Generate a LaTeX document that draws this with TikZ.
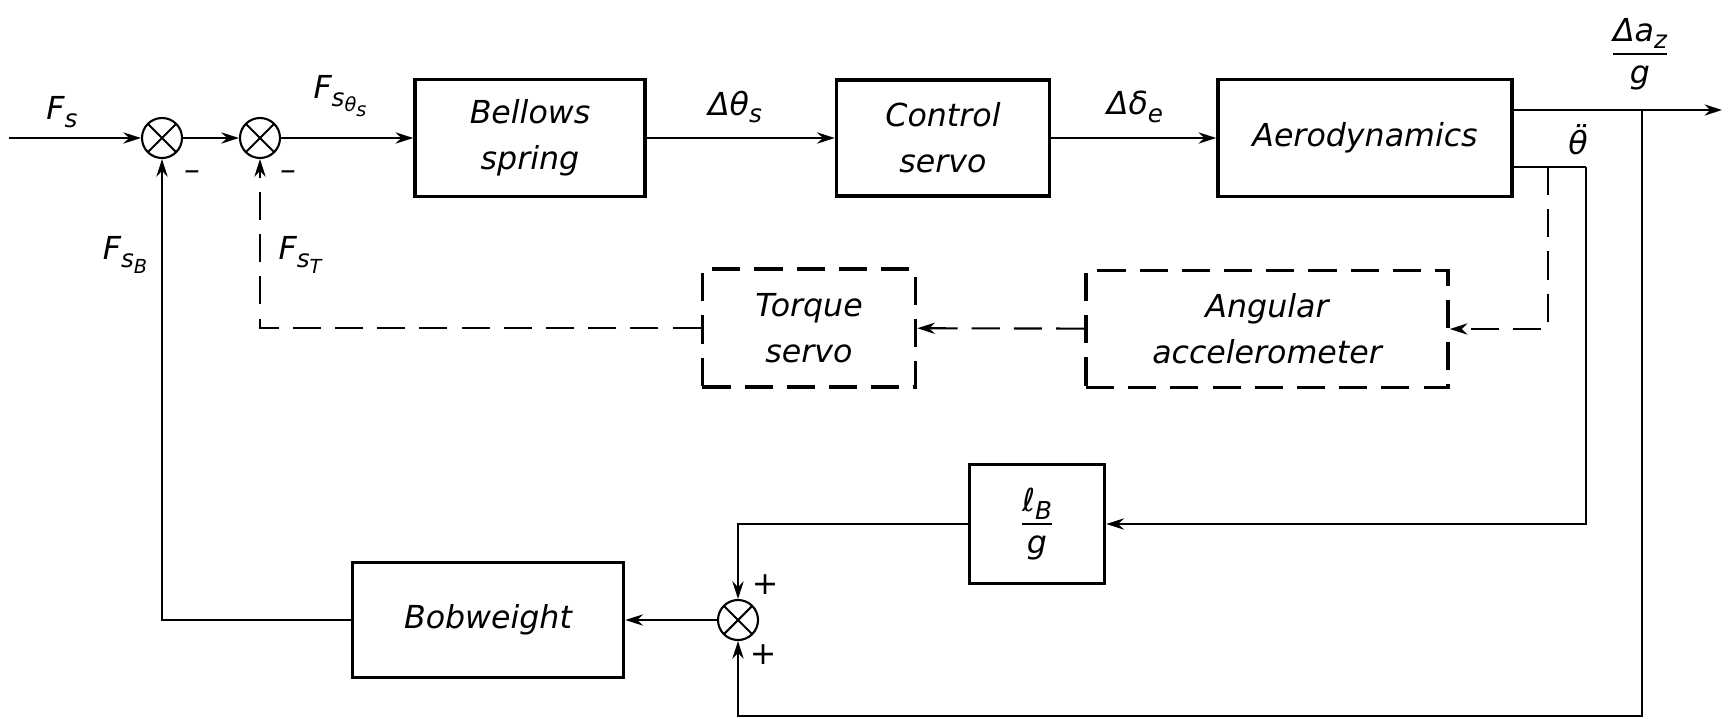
\documentclass[tikz,border=0pt]{standalone}
\usepackage{fontspec}
\setmainfont{DejaVu Sans}
\usetikzlibrary{arrows.meta}
\newcommand{\vfrac}[2]{$\displaystyle\frac{\mbox{#1}}{\mbox{#2}}$}
\newcommand{\lowidx}[1]{\raisebox{-0.45ex}{\fontsize{7}{8}\selectfont #1}}
\newcommand{\lowlowidx}[1]{\raisebox{-0.4ex}{\fontsize{5.5}{6}\selectfont #1}}
\begin{document}
\begin{tikzpicture}[
  x=0.01cm, y=-0.01cm,
  font=\itshape\fontsize{9}{11}\selectfont,
  block/.style={draw, line width=1pt, align=center, inner sep=0pt},
  dblock/.style={block, dash pattern=on 8pt off 4pt},
  sumj/.style={draw, line width=0.6pt, circle, minimum size=0.40cm, inner sep=0pt,
    path picture={\draw[line width=0.6pt] (path picture bounding box.north west) -- (path picture bounding box.south east)
      (path picture bounding box.north east) -- (path picture bounding box.south west);}},
  arrow/.style={-{Stealth[length=5pt,width=3.2pt]}, line width=0.6pt},
  darrow/.style={arrow, dash pattern=on 8pt off 4pt},
  wire/.style={line width=0.6pt}
]
\useasboundingbox (0,0) rectangle (1728,718);
% main path
\coordinate (in) at (9,138);
\node[sumj] (sum1) at (162,138) {};
\node[sumj] (sum2) at (260,138) {};
\node[block, minimum width=2.30cm, minimum height=1.17cm] (bellows) at (530,138) {Bellows\\[2pt]spring};
\node[block, minimum width=2.13cm, minimum height=1.16cm] (control) at (943,138) {Control\\[2pt]servo};
\node[block, minimum width=2.94cm, minimum height=1.17cm] (aero) at (1365,138) {Aerodynamics};
\coordinate (out) at (1722,110);
\coordinate (j1) at (1642,110);
\coordinate (j2) at (1586,167);
\coordinate (j3) at (1548,167);
\coordinate (bot) at (1642,716);
% feedback blocks
\node[dblock, minimum width=2.13cm, minimum height=1.18cm] (torque) at (809,328) {Torque\\[2pt]servo};
\node[dblock, minimum width=3.62cm, minimum height=1.17cm] (angular) at (1267,329) {Angular\\[2pt]accelerometer};
\node[block, minimum width=1.35cm, minimum height=1.19cm] (lbg) at (1037,524) {\vfrac{ℓ\lowidx{B}}{g}};
\node[block, minimum width=2.71cm, minimum height=1.15cm] (bob) at (488,620) {Bobweight};
\node[sumj] (sum3) at (738,620) {};

\draw[arrow] (in) -- (sum1);
\draw[arrow] (sum1) -- (sum2);
\draw[arrow] (sum2) -- (bellows);
\draw[arrow] (bellows) -- (control);
\draw[arrow] (control) -- (aero);
\draw[arrow] (aero.east |- out) -- (out);
\draw[wire] (aero.east |- j2) -- (j2);
\draw[arrow] (j2) |- (lbg);
\draw[darrow] (j3) |- (angular);
\draw[darrow] (angular) -- (torque);
\draw[darrow] (torque) -| (sum2);
\draw[arrow] (lbg) -| (sum3);
\draw[arrow] (sum3) -- (bob);
\draw[arrow] (bob) -| (sum1);
\draw[arrow] (j1) -- (bot) -| (sum3);

% signal labels
\node (lfs) at (62,112) {F\lowidx{s}};
\node (lfst) at (340,96) {F\lowidx{s\lowlowidx{θ\lowlowidx{s}}}};
\node (lfsb) at (125,255) {F\lowidx{s\lowlowidx{B}}};
\node (lfsq) at (300,255) {F\lowidx{s\lowlowidx{T}}};
\node (ldth) at (735,107) {Δθ\lowidx{s}};
\node (ldde) at (1135,107) {Δδ\lowidx{e}};
\node (lthdd) at (1578,140) {θ̈};
\node (laz) at (1640,54) {\vfrac{Δa\lowidx{z}}{g}};
\node (m1) at (192,176) {–};
\node (m2) at (288,176) {–};
\node (p1) at (765,585) {+};
\node (p2) at (763,655) {+};
\end{tikzpicture}
\end{document}
